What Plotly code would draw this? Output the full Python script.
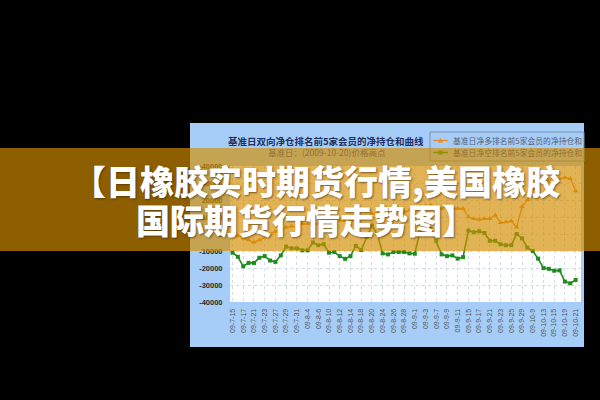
import plotly.graph_objects as go

# ---------------- data ----------------
dates = ["09-7-15", "09-7-16", "09-7-17", "09-7-20", "09-7-21", "09-7-22", "09-7-23", "09-7-24",
         "09-7-27", "09-7-28", "09-7-29", "09-7-30", "09-7-31",
         "09-8-3", "09-8-4", "09-8-5", "09-8-6", "09-8-7", "09-8-10", "09-8-11", "09-8-12",
         "09-8-13", "09-8-14", "09-8-17", "09-8-18", "09-8-19", "09-8-20", "09-8-21", "09-8-24",
         "09-8-25", "09-8-26", "09-8-27", "09-8-28", "09-8-31",
         "09-9-1", "09-9-2", "09-9-3", "09-9-4", "09-9-7", "09-9-8", "09-9-9", "09-9-10", "09-9-11",
         "09-9-14", "09-9-15", "09-9-16", "09-9-17", "09-9-18", "09-9-21", "09-9-22", "09-9-23",
         "09-9-24", "09-9-25", "09-9-28", "09-9-29", "09-9-30",
         "09-10-9", "09-10-12", "09-10-13", "09-10-14", "09-10-15", "09-10-16", "09-10-19",
         "09-10-20", "09-10-21"]

net_long_top5 = [0, -1000, -2500, -3500, -5000, -3500, -2000, 0, 1500, 2500,
                 4000, 4500, 4500, 6000, 6000, 5500, 6000, 6500, 7000, 7000,
                 8000, 8000, 7500, 8500, 9000, 10000, 12000, 12500, 12000, 12500,
                 13000, 13500, 13000, 14000, 15000, 16000, 16500, 17000, 16000, 15000,
                 16000, 15000, 15000, 15000, 10000, 9000, 8500, 9000, 9000, 11000,
                 6600, 7000, 7600, 4000, 16000, 20000, 26000, 29000, 31000, 31000,
                 34000, 32500, 33300, 32500, 25300]

net_short_top5 = [-11000, -13400, -19000, -17000, -17000, -14000, -13000, -15600, -16400, -12600,
                  -7400, -8400, -8400, -9600, -9600, -5000, -6600, -6000, -11000, -10600,
                  -13000, -14600, -13000, -7000, -9400, -1800, 5000, 0, -11400, -12000,
                  -10600, -10600, -10600, -11400, -11600, 2000, 4000, 3000, -4000, -12000,
                  -13000, -12600, -14500, -13600, 2000, 1000, 1600, 600, -4000, -4000,
                  -6000, -6600, -6600, 0, -2600, -8000, -10000, -14500, -20000, -20500,
                  -21600, -21400, -28000, -29000, -27000]

y_tick_vals = [-40000, -30000, -20000, -10000, 0, 10000, 20000, 30000, 40000]
y_tick_text = ["-40000", "-30000", "-20000", "-10000", "0", "10000", "20000", "30000", "40000"]

chart_title = "基准日双向净仓排名前5家会员的净持仓和曲线"
chart_subtitle = "基准日：(2009-10-20)价格高点"
legend_long = "基准日净多排名前5家会员的净持仓和"
legend_short = "基准日净空排名前5家会员的净持仓和"
banner_line1 = "【日橡胶实时期货行情,美国橡胶"
banner_line2 = "国际期货行情走势图】"

# ---------------- geometry helpers (pixel -> paper) ----------------
W, H = 600, 400
L, R, T, B = 230, 581, 166, 302


def px(x):
    return (x - L) / (R - L)


def py(y):
    return (B - y) / (B - T)


idx = list(range(len(dates)))
tick_idx = idx[::2]
tick_lbl = dates[::2]

ORANGE = "#f08a1c"
GREEN = "#1e8c1e"
CJK = "Noto Sans CJK SC"

fig = go.Figure()
fig.add_trace(go.Scatter(x=idx, y=net_long_top5, mode="lines+markers",
                         line=dict(color=ORANGE, width=1.3),
                         marker=dict(symbol="triangle-up", size=5, color=ORANGE),
                         name=legend_long, showlegend=False))
fig.add_trace(go.Scatter(x=idx, y=net_short_top5, mode="lines+markers",
                         line=dict(color=GREEN, width=1.6),
                         marker=dict(symbol="square", size=4, color=GREEN),
                         name=legend_short, showlegend=False))

shapes = [
    # chart panel (light blue)
    dict(type="rect", xref="paper", yref="paper", x0=px(190), x1=px(584), y0=py(347), y1=py(123),
         fillcolor="#a6cdf7", line=dict(width=0), layer="below"),
    # white plotting area
    dict(type="rect", xref="paper", yref="paper", x0=px(L), x1=px(R), y0=py(B), y1=py(T),
         fillcolor="white", line=dict(width=0), layer="below"),
    # legend frame
    dict(type="rect", xref="paper", yref="paper", x0=px(430), x1=px(584), y0=py(161), y1=py(132),
         fillcolor="rgba(0,0,0,0)", line=dict(width=1, color="#7f8fa6"), layer="above"),
    # legend symbols
    dict(type="line", xref="paper", yref="paper", x0=px(433), x1=px(448), y0=py(140.5), y1=py(140.5),
         line=dict(width=1.3, color=ORANGE), layer="above"),
    dict(type="path", xref="paper", yref="paper",
         path=f"M {px(438)} {py(142.5)} L {px(443)} {py(142.5)} L {px(440.5)} {py(138)} Z",
         fillcolor=ORANGE, line=dict(width=0), layer="above"),
    dict(type="line", xref="paper", yref="paper", x0=px(433), x1=px(448), y0=py(152.5), y1=py(152.5),
         line=dict(width=1.5, color=GREEN), layer="above"),
    dict(type="rect", xref="paper", yref="paper", x0=px(438.5), x1=px(442.5), y0=py(154.5), y1=py(150.5),
         fillcolor=GREEN, line=dict(width=0), layer="above"),
    # translucent banner
    dict(type="rect", xref="paper", yref="paper", x0=px(0), x1=px(600), y0=py(251), y1=py(148),
         fillcolor="rgba(210,142,0,0.67)", line=dict(width=0), layer="above"),
]

shadow = "1px 1px 2px rgba(60,30,0,0.6)"
annotations = [
    dict(text=chart_title, xref="paper", yref="paper", x=px(326), y=py(141), xanchor="center",
         yanchor="middle", showarrow=False,
         font=dict(family=CJK, size=9.5, color="#1f2f60", weight="bold")),
    dict(text=chart_subtitle, xref="paper", yref="paper", x=px(327), y=py(152), xanchor="center",
         yanchor="middle", showarrow=False,
         font=dict(family=CJK, size=8.5, color="rgb(150,112,50)")),
    dict(text=legend_long, xref="paper", yref="paper", x=px(451), y=py(140.7), xanchor="left",
         yanchor="middle", showarrow=False,
         font=dict(family=CJK, size=7.8, color="#5a6270")),
    dict(text=legend_short, xref="paper", yref="paper", x=px(451), y=py(152.7), xanchor="left",
         yanchor="middle", showarrow=False,
         font=dict(family=CJK, size=7.8, color="rgb(150,112,50)")),
    dict(text=banner_line1, xref="paper", yref="paper", x=px(316), y=py(180), xanchor="center",
         yanchor="middle", showarrow=False,
         font=dict(family=CJK, size=34, color="white", weight=900, shadow=shadow)),
    dict(text=banner_line2, xref="paper", yref="paper", x=px(306), y=py(219.5), xanchor="center",
         yanchor="middle", showarrow=False,
         font=dict(family=CJK, size=34, color="white", weight=900, shadow=shadow)),
]

fig.update_layout(
    width=W, height=H,
    margin=dict(l=L, r=W - R, t=T, b=H - B, pad=0),
    paper_bgcolor="black", plot_bgcolor="white",
    showlegend=False,
    shapes=shapes, annotations=annotations,
    xaxis=dict(range=[-0.47, 65.0], tickmode="array", tickvals=tick_idx, ticktext=tick_lbl,
               tickangle=-90, tickfont=dict(family="Liberation Sans", size=7, color="#555"),
               showgrid=True, gridcolor="#d3dce6", griddash="dot", gridwidth=1,
               zeroline=False, showline=False, ticks="outside", ticklen=3,
               tickcolor="rgba(0,0,0,0)", fixedrange=True),
    yaxis=dict(range=[-40000, 40000], tickmode="array", tickvals=y_tick_vals, ticktext=y_tick_text,
               tickfont=dict(family="Liberation Sans", size=7.5, color="#2a2a2a", weight="bold"),
               showgrid=True, gridcolor="#d3dce6", griddash="dot", gridwidth=1,
               zeroline=False, showline=False, ticks="outside", ticklen=5,
               tickcolor="rgba(0,0,0,0)", fixedrange=True),
)

fig.write_html(
    "out.html",
    config={"displayModeBar": False},
    post_script="document.body.style.margin='0';document.body.style.padding='0';"
                "document.body.style.overflow='hidden';document.body.style.background='black';",
)
